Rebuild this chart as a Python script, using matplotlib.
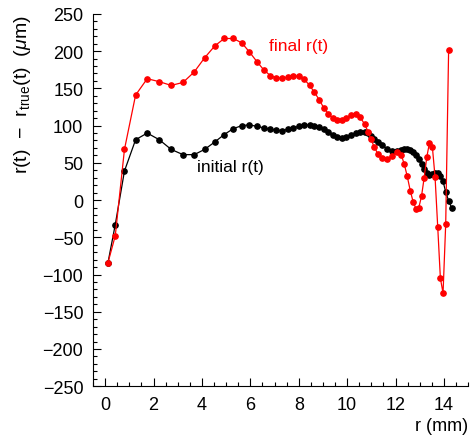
import matplotlib
matplotlib.use("Agg")
import matplotlib.pyplot as plt
from matplotlib.ticker import MultipleLocator

plt.rcParams['font.family'] = ['Liberation Sans', 'DejaVu Sans']
plt.rcParams['mathtext.fontset'] = 'custom'
plt.rcParams['mathtext.rm'] = 'Liberation Sans'
plt.rcParams['mathtext.it'] = 'Liberation Sans:italic'

r_mm = [0.12, 0.42, 0.80, 1.26, 1.74, 2.24, 2.73, 3.22, 3.68, 4.11,
        4.53, 4.92, 5.30, 5.65, 5.96, 6.27, 6.55, 6.83, 7.08, 7.31,
        7.54, 7.78, 8.01, 8.23, 8.45, 8.64, 8.84, 9.03, 9.22, 9.40,
        9.58, 9.77, 9.96, 10.16, 10.36, 10.54, 10.72, 10.86, 10.98, 11.12,
        11.27, 11.45, 11.64, 11.85, 12.07, 12.24, 12.36, 12.48, 12.61, 12.73,
        12.85, 12.96, 13.07, 13.18, 13.29, 13.40, 13.52, 13.63, 13.74, 13.85,
        13.96, 14.07, 14.19, 14.31]

initial = [-84, -33, 39, 81, 90, 81, 68, 61, 61, 68,
           78, 88, 96, 100, 101, 99, 97, 95, 94, 93,
           95, 97, 99, 101, 101, 100, 98, 95, 91, 88,
           85, 84, 85, 88, 90, 92, 92, 90, 86, 82,
           78, 74, 69, 66, 66, 67, 68, 69, 67, 64,
           60, 55, 48, 42, 36, 34, 35, 37, 37, 32,
           25, 11, -1, -10]

final = [-84, -48, 68, 141, 163, 159, 154, 158, 172, 191,
         207, 217, 217, 211, 199, 186, 175, 167, 164, 164,
         165, 167, 166, 162, 154, 145, 135, 124, 116, 110,
         107, 108, 110, 114, 115, 111, 102, 92, 82, 71,
         62, 56, 55, 59, 64, 60, 48, 32, 12, -3,
         -12, -10, 5, 30, 58, 77, 71, 31, -36, -105,
         -125, -32, 201]

fig = plt.figure(figsize=(4.72, 4.39), dpi=100)
ax = fig.add_axes([0.197, 0.118, 0.795, 0.848])

ax.plot(r_mm, initial, color='black', marker='o', markersize=3.8, linewidth=0.9)
ax.plot(r_mm[:len(final)], final, color='red', marker='o', markersize=3.8, linewidth=0.9)

ax.text(6.78, 207, "final r(t)", color='red', fontsize=12.5, va='center')
ax.text(3.78, 45, "initial r(t)", color='black', fontsize=12.5, va='center')

ax.set_xlim(-0.5, 15)
ax.set_ylim(-250, 250)
ax.xaxis.set_major_locator(MultipleLocator(2))
ax.xaxis.set_minor_locator(MultipleLocator(0.5))
ax.yaxis.set_major_locator(MultipleLocator(50))
ax.yaxis.set_minor_locator(MultipleLocator(10))
ax.tick_params(axis='both', which='major', direction='in', length=6, width=0.8, labelsize=13, pad=7)
ax.tick_params(axis='both', which='minor', direction='in', length=3, width=0.8)
ax.spines['top'].set_visible(False)
ax.spines['right'].set_visible(False)

ax.set_xlabel("r (mm)", fontsize=13, loc='right', labelpad=3)
ax.set_ylabel(r"r(t)  $-$  r$_{\mathrm{true}}$(t)  ($\mu$m)", fontsize=14, loc='top', labelpad=7)

fig.savefig("out.png", dpi=100)
